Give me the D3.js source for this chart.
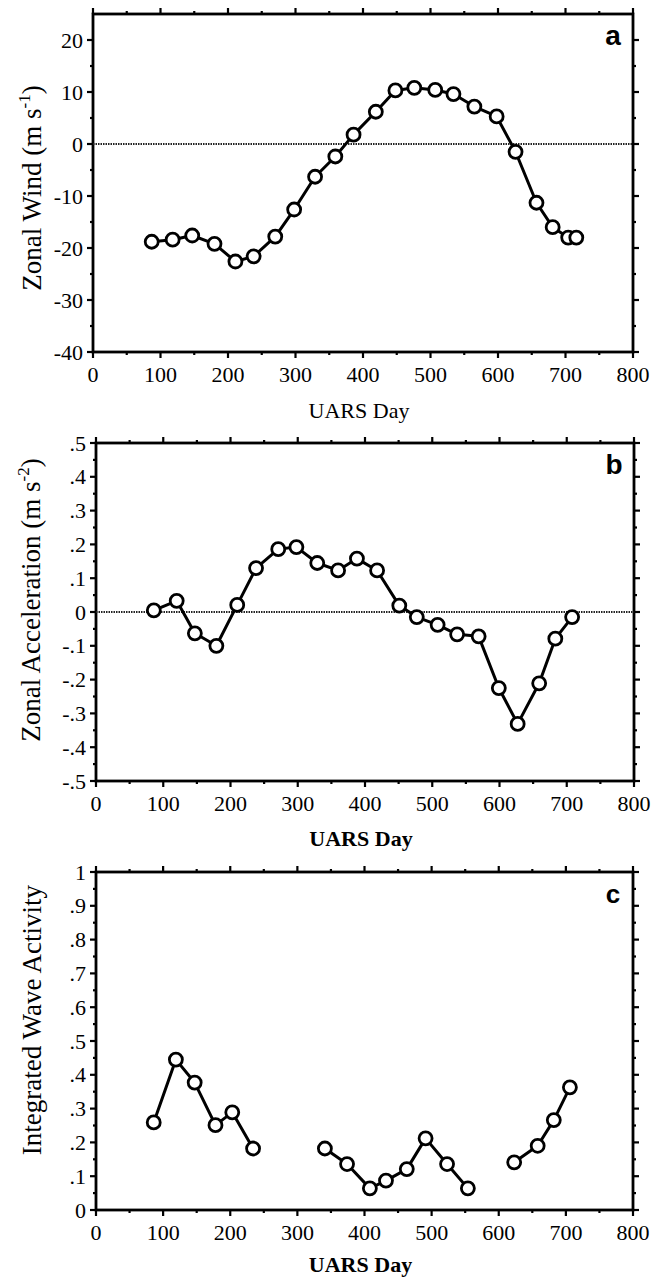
<!DOCTYPE html>
<html>
<head>
<meta charset="utf-8">
<script src="https://cdnjs.cloudflare.com/ajax/libs/d3/7.8.5/d3.min.js"></script>
<style>
  html, body { margin: 0; padding: 0; background: #fff; }
  svg { display: block; }
</style>
</head>
<body>
<svg id="chart" width="657" height="1281"></svg>
<script>
// ---- Data ----
const windDays   = [87, 118, 147, 180, 211, 238, 270, 298, 329, 359, 386, 419, 448, 476, 507, 534, 565, 598, 626, 657, 681, 704, 716];
const windValues = [-18.8, -18.4, -17.6, -19.2, -22.6, -21.6, -17.8, -12.6, -6.3, -2.4, 1.8, 6.2, 10.3, 10.8, 10.4, 9.6, 7.2, 5.3, -1.5, -11.3, -16.0, -18.0, -18.0];

const accelDays   = [86, 120, 147, 179, 210, 238, 271, 298, 329, 360, 388, 418, 451, 477, 508, 537, 569, 599, 627, 659, 683, 708];
const accelValues = [0.005, 0.033, -0.063, -0.100, 0.021, 0.130, 0.186, 0.192, 0.145, 0.123, 0.158, 0.123, 0.019, -0.015, -0.038, -0.066, -0.072, -0.225, -0.331, -0.211, -0.079, -0.015];

const waveDays     = [86, 119, 147, 178, 203, 234, 341, 374, 408, 432, 463, 491, 523, 554, 623, 658, 682, 706];
const waveValues   = [0.259, 0.445, 0.377, 0.251, 0.289, 0.182, 0.182, 0.136, 0.064, 0.087, 0.121, 0.212, 0.136, 0.064, 0.141, 0.190, 0.266, 0.363];
const waveSegments = [0, 0, 0, 0, 0, 0, 1, 1, 1, 1, 1, 1, 1, 1, 2, 2, 2, 2];

const xTicks = [0, 100, 200, 300, 400, 500, 600, 700, 800];
const windTicks = [-40, -30, -20, -10, 0, 10, 20];
const windTickLabels = ["-40", "-30", "-20", "-10", "0", "10", "20"];
const accelTicks = [-0.5, -0.4, -0.3, -0.2, -0.1, 0, 0.1, 0.2, 0.3, 0.4, 0.5];
const accelTickLabels = ["-.5", "-.4", "-.3", "-.2", "-.1", "0", ".1", ".2", ".3", ".4", ".5"];
const waveTicks = [0, 0.1, 0.2, 0.3, 0.4, 0.5, 0.6, 0.7, 0.8, 0.9, 1];
const waveTickLabels = ["0", ".1", ".2", ".3", ".4", ".5", ".6", ".7", ".8", ".9", "1"];

const SERIF = "'Liberation Serif', 'Times New Roman', Tinos, 'DejaVu Serif', serif";
const SANS = "'Liberation Sans', Arial, Helvetica, sans-serif";

const svg = d3.select("#chart");

function panel(cfg) {
  const g = svg.append("g");
  const x = d3.scaleLinear().domain([0, 800]).range([cfg.left, cfg.right]);
  const y = d3.scaleLinear().domain(cfg.yDomain).range([cfg.bottom, cfg.top]);

  const xMinor = d3.range(50, 800, 100);
  const yMinor = cfg.yMinor;

  function ticksX(yPos, dir) {
    g.selectAll(null).data(xTicks).enter().append("line")
      .attr("x1", d => x(d)).attr("x2", d => x(d))
      .attr("y1", yPos).attr("y2", yPos + dir * 6)
      .attr("stroke", "#000").attr("stroke-width", 2.2);
    g.selectAll(null).data(xMinor).enter().append("line")
      .attr("x1", d => x(d)).attr("x2", d => x(d))
      .attr("y1", yPos).attr("y2", yPos + dir * 3)
      .attr("stroke", "#000").attr("stroke-width", 2.2);
  }
  function ticksY(xPos, dir) {
    g.selectAll(null).data(cfg.yTicks).enter().append("line")
      .attr("y1", d => y(d)).attr("y2", d => y(d))
      .attr("x1", xPos).attr("x2", xPos + dir * 6)
      .attr("stroke", "#000").attr("stroke-width", 2.2);
    g.selectAll(null).data(yMinor).enter().append("line")
      .attr("y1", d => y(d)).attr("y2", d => y(d))
      .attr("x1", xPos).attr("x2", xPos + dir * 3)
      .attr("stroke", "#000").attr("stroke-width", 2.2);
  }
  ticksX(cfg.bottom, 1);
  ticksX(cfg.top, -1);
  ticksY(cfg.left, -1);
  ticksY(cfg.right, 1);

  g.append("rect")
    .attr("x", cfg.left).attr("y", cfg.top)
    .attr("width", cfg.right - cfg.left).attr("height", cfg.bottom - cfg.top)
    .attr("fill", "none").attr("stroke", "#000").attr("stroke-width", 2.8);

  g.selectAll(null).data(xTicks).enter().append("text")
    .attr("x", d => x(d)).attr("y", cfg.bottom + 30)
    .attr("text-anchor", "middle").attr("font-size", 22)
    .attr("font-family", SERIF).attr("fill", "#000")
    .text(d => d);
  g.selectAll(null).data(cfg.yTicks).enter().append("text")
    .attr("x", cfg.left - 10).attr("y", d => y(d) + 7.5)
    .attr("text-anchor", "end").attr("font-size", 22)
    .attr("font-family", SERIF).attr("fill", "#000")
    .text((d, i) => cfg.yTickLabels[i]);

  if (cfg.zeroLine) {
    g.append("line")
      .attr("x1", cfg.left).attr("x2", cfg.right)
      .attr("y1", y(0)).attr("y2", y(0))
      .attr("stroke", "#222").attr("stroke-width", 1.8)
      .attr("stroke-dasharray", "1.5,1");
  }

  const line = d3.line().x(d => x(d[0])).y(d => y(d[1]));
  cfg.groups.forEach(grp => {
    g.append("path").datum(grp)
      .attr("d", line).attr("fill", "none")
      .attr("stroke", "#000").attr("stroke-width", 3)
      .attr("stroke-linejoin", "round");
  });
  const allPts = cfg.groups.flat();
  g.selectAll(null).data(allPts).enter().append("circle")
    .attr("cx", d => x(d[0])).attr("cy", d => y(d[1])).attr("r", 6.5)
    .attr("fill", "#fff").attr("stroke", "#000").attr("stroke-width", 2.8);

  g.append("text")
    .attr("x", cfg.right - 20).attr("y", cfg.top + 31)
    .attr("text-anchor", "middle")
    .attr("font-family", SANS).attr("font-weight", "bold")
    .attr("font-size", cfg.letterSize).attr("fill", "#000")
    .text(cfg.letter);

  g.append("text")
    .attr("x", (cfg.left + cfg.right) / 2 - 4).attr("y", cfg.bottom + cfg.xLabelOffset)
    .attr("text-anchor", "middle").attr("font-size", 22)
    .attr("font-family", SERIF).attr("fill", "#000")
    .attr("font-weight", cfg.xLabelBold ? "bold" : "normal")
    .text("UARS Day");

  const yl = g.append("text")
    .attr("transform", `translate(${cfg.yLabelX},${cfg.yLabelY}) rotate(-90)`)
    .attr("text-anchor", "middle").attr("font-size", 27)
    .attr("font-family", SERIF).attr("fill", "#000");
  yl.append("tspan").text(cfg.yLabel);
  if (cfg.yLabelSup) {
    yl.append("tspan").attr("font-size", 17).attr("dy", -11).text(cfg.yLabelSup);
    yl.append("tspan").attr("dy", 11).text(")");
  }
}

function pairs(xs, ys) { return xs.map((d, i) => [d, ys[i]]); }

panel({
  left: 93, right: 633, top: 14, bottom: 352,
  yDomain: [-40, 25], yTicks: windTicks, yTickLabels: windTickLabels,
  yMinor: d3.range(-35, 25, 10),
  zeroLine: true, letter: "a", letterSize: 28, xLabelOffset: 66, xLabelBold: false,
  yLabelX: 41, yLabelY: 188, yLabel: "Zonal Wind (m s", yLabelSup: "-1",
  groups: [pairs(windDays, windValues)]
});

panel({
  left: 96, right: 634, top: 443, bottom: 781,
  yDomain: [-0.5, 0.5], yTicks: accelTicks, yTickLabels: accelTickLabels,
  yMinor: d3.range(-0.45, 0.5, 0.1),
  zeroLine: true, letter: "b", letterSize: 28, xLabelOffset: 65, xLabelBold: true,
  yLabelX: 40, yLabelY: 600, yLabel: "Zonal Acceleration (m s", yLabelSup: "-2",
  groups: [pairs(accelDays, accelValues)]
});

const wavePts = pairs(waveDays, waveValues);
const waveGroups = d3.groups(wavePts.map((p, i) => ({p, s: waveSegments[i]})), d => d.s)
  .map(([, arr]) => arr.map(o => o.p));

panel({
  left: 96, right: 633, top: 872, bottom: 1210,
  yDomain: [0, 1], yTicks: waveTicks, yTickLabels: waveTickLabels,
  yMinor: d3.range(0.05, 1, 0.1),
  zeroLine: false, letter: "c", letterSize: 26, xLabelOffset: 62, xLabelBold: true,
  yLabelX: 41, yLabelY: 1020, yLabel: "Integrated Wave Activity", yLabelSup: null,
  groups: waveGroups
});
</script>
</body>
</html>
